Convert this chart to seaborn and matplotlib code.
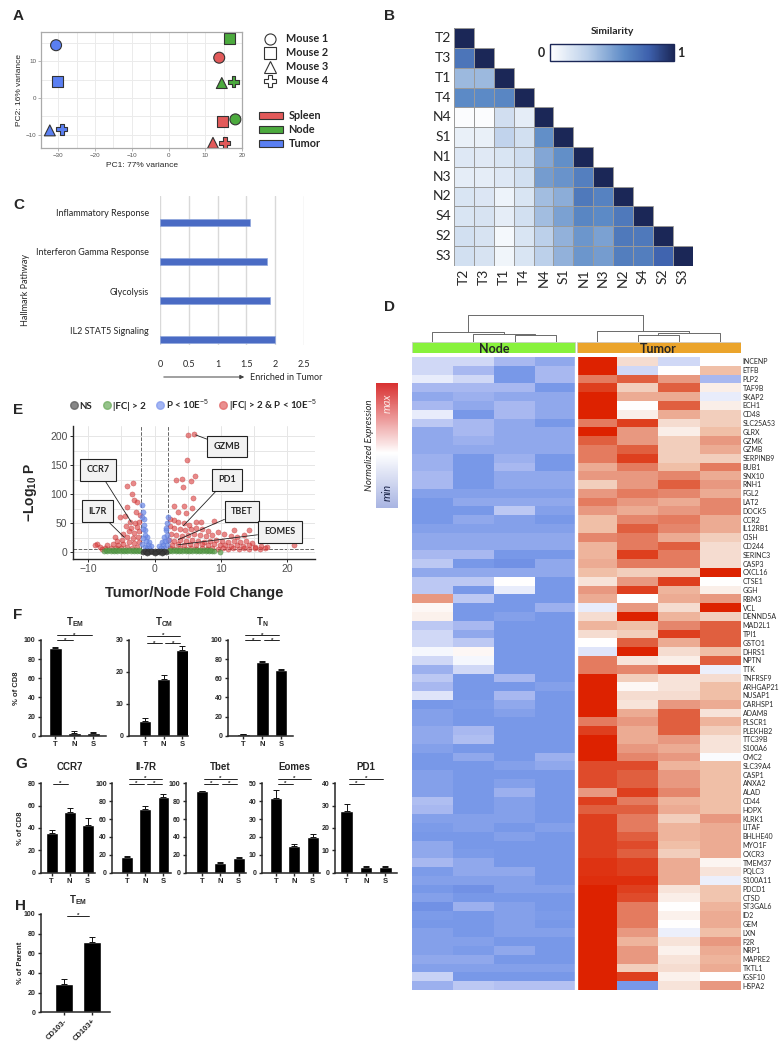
import numpy as np
import pandas as pd
import matplotlib
matplotlib.use('Agg')
import matplotlib.pyplot as plt
import seaborn as sns
from matplotlib.colors import LinearSegmentedColormap
from matplotlib.lines import Line2D
from matplotlib.patches import Patch, Rectangle
from matplotlib.cm import ScalarMappable

# ---------------- data ----------------
# A: PCA
pca_tissue = ['Tumor'] * 4 + ['Node'] * 4 + ['Spleen'] * 4
pca_mouse = ['Mouse 1', 'Mouse 2', 'Mouse 3', 'Mouse 4'] * 3
pca_pc1 = [-30.6, -30.3, -32.3, -29.0, 18.2, 16.5, 14.5, 17.7, 13.8, 14.7, 12.1, 15.3]
pca_pc2 = [14.4, 4.4, -8.8, -8.5, -5.8, 16.2, 4.1, 4.4, 11.0, -6.5, -12.2, -12.2]
tissue_colors = {'Spleen': '#E25A5A', 'Node': '#4CAA3E', 'Tumor': '#5A7FF2'}
mouse_markers = {'Mouse 1': 'o', 'Mouse 2': 's', 'Mouse 3': '^', 'Mouse 4': 'P'}

# B: similarity (lower triangle, row by row)
sim_labels = ['T2', 'T3', 'T1', 'T4', 'N4', 'S1', 'N1', 'N3', 'N2', 'S4', 'S2', 'S3']
sim_rows = [
    [1],
    [0.70, 1],
    [0.40, 0.40, 1],
    [0.60, 0.60, 0.62, 1],
    [0.02, 0.02, 0.21, 0.12, 1],
    [0.10, 0.10, 0.28, 0.20, 0.58, 1],
    [0.15, 0.14, 0.17, 0.22, 0.48, 0.58, 1],
    [0.12, 0.12, 0.15, 0.20, 0.52, 0.56, 0.65, 1],
    [0.17, 0.16, 0.08, 0.17, 0.38, 0.45, 0.68, 0.64, 1],
    [0.17, 0.18, 0.12, 0.20, 0.38, 0.50, 0.62, 0.60, 0.68, 1],
    [0.20, 0.18, 0.05, 0.17, 0.30, 0.43, 0.55, 0.50, 0.68, 0.68, 1],
    [0.20, 0.18, 0.07, 0.17, 0.30, 0.43, 0.55, 0.52, 0.66, 0.66, 0.78, 1],
]

# C: hallmark pathways
pathways = ['Inflammatory Response', 'Interferon Gamma Response', 'Glycolysis', 'IL2 STAT5 Signaling']
enrichment = [1.57, 1.85, 1.91, 1.99]

# D: heatmap (0 = min/blue, 5 = white, 10 = max/red)
genes = ['INCENP', 'ETFB', 'PLP2', 'TAF9B', 'SKAP2', 'ECH1', 'CD48', 'SLC25A53', 'GLRX', 'GZMK',
         'GZMB', 'SERPINB9', 'BUB1', 'SNX10', 'RNH1', 'FGL2', 'LAT2', 'DOCK5', 'CCR2', 'IL12RB1',
         'CISH', 'CD244', 'SERINC3', 'CASP3', 'CXCL16', 'CTSE1', 'GGH', 'RBM3', 'VCL', 'DENND5A',
         'MAD2L1', 'TPI1', 'GSTO1', 'DHRS1', 'NPTN', 'TTK', 'TNFRSF9', 'ARHGAP21', 'NUSAP1', 'CARHSP1',
         'ADAM8', 'PLSCR1', 'PLEKHB2', 'TTC39B', 'S100A6', 'CMC2', 'SLC39A4', 'CASP1', 'ANXA2', 'ALAD',
         'CD44', 'HOPX', 'KLRK1', 'LITAF', 'BHLHE40', 'MYO1F', 'CXCR3', 'TMEM37', 'PQLC3', 'S100A11',
         'PDCD1', 'CTSD', 'ST3GAL6', 'ID2', 'GEM', 'LXN', 'F2R', 'NRP1', 'MAPRE2', 'TKTL1',
         'IGSF10', 'HSPA2']
node_expr = [
    [4, 4, 3, 2], [4, 3, 1, 3], [4.5, 4, 1, 3], [3, 3, 3, 1], [2, 2.5, 2, 2], [3, 2, 3, 2],
    [4.5, 1, 3, 2], [3.5, 3, 2, 1], [2, 3, 2, 2], [2, 2.5, 2, 2], [2, 2, 2, 2], [2.5, 1, 2.5, 1],
    [2.5, 1, 3, 1], [3, 1, 2, 2], [3, 1, 2, 2], [1.5, 1.5, 1.5, 1.5], [1, 2, 2, 2], [1, 1, 3.5, 1.5],
    [1, 2, 1.5, 1], [1.5, 1.5, 1.5, 1.5], [2, 2, 2, 2], [2, 2, 2, 2], [3, 3, 1, 1], [3.5, 1, 0.5, 2],
    [2, 2, 2, 2], [3.5, 3.5, 5, 1], [3.5, 1, 4.5, 1], [8, 3.5, 1, 1], [5.2, 1, 1, 2.5], [5.4, 1, 1.5, 1],
    [3.5, 3, 1, 1], [4, 2, 1, 1], [4, 3.5, 1, 1], [4.8, 5.2, 1, 1], [4, 4.8, 1, 1], [2.5, 4, 1, 1],
    [3.5, 1, 3, 1], [3, 1, 1, 1.5], [4.3, 1, 3, 1], [1, 1.2, 2, 1], [1.5, 1, 1.5, 1], [1.5, 1, 1, 1],
    [2, 3, 1, 1], [2, 3.2, 1, 1], [1.5, 1, 1, 1], [1, 2, 1, 2.5], [1, 1, 1.5, 2], [1.5, 1, 1, 1],
    [1.5, 1, 1.5, 1], [1.5, 1, 2.5, 1], [3.2, 1, 1.5, 1], [3, 1, 1.5, 1], [1.5, 1.5, 1.5, 1], [1.2, 1.5, 1, 1.5],
    [1, 1, 1.5, 1], [2, 1, 1, 1], [2, 1.2, 1, 1], [3, 2, 1, 1], [1.2, 2, 2, 1], [1.5, 1.5, 1.5, 1],
    [1, 0.5, 1.5, 1.5], [1.5, 1, 1, 1], [0.5, 2.5, 1.5, 1], [1.2, 1, 1.5, 1.2], [1, 1, 1.5, 1], [1.5, 1, 1.5, 1.5],
    [1.5, 1.5, 1, 1], [1.5, 1.2, 2, 1], [2, 2, 1, 1], [1.5, 1.5, 1.5, 1.5], [3.8, 1, 1, 1], [2.5, 3.5, 3.3, 3.3],
]
tumor_expr = [
    [10, 6, 4, 5], [10, 4, 5, 7], [8.5, 9, 8, 3], [9.5, 6.5, 9, 5.5], [10, 7.5, 7.5, 4.5], [10, 5, 9, 5.5],
    [10, 5.5, 7.5, 6.5], [8.5, 9.5, 6, 6.5], [10, 8, 5.5, 7], [9, 8, 6.5, 8], [8.5, 9, 6.5, 7.5], [8.5, 9.5, 6.5, 6.5],
    [7.5, 8.5, 7, 8.5], [8, 8, 8.3, 7.5], [6.5, 8, 9, 8], [8, 8.5, 8.3, 7.5], [8.5, 8, 7.5, 8.3], [8, 7.5, 8, 8.3],
    [7, 8.3, 8.5, 7.5], [7, 9, 8.3, 7.5], [8.3, 8.5, 7.5, 6.5], [7.3, 8.5, 9, 6], [7.3, 9.5, 8.5, 6], [7.5, 8.5, 8.5, 6],
    [7, 6.5, 6.5, 10], [5.8, 8, 9.5, 5], [8, 9.5, 7.3, 5.5], [7.5, 5, 7.5, 8], [4.5, 8, 6, 10], [6, 10, 7.3, 6.5],
    [7.3, 7, 8.3, 9], [6, 6.5, 9.5, 9], [5, 9, 7.5, 9], [4.3, 10, 6, 7], [8.5, 5.8, 5.5, 9], [8.5, 8.3, 9.3, 4.6],
    [10, 6.5, 5.8, 6], [10, 5.2, 5.8, 7], [10, 6, 6, 7], [10, 5.8, 8, 7.5], [10, 7.5, 9, 5.8], [8.5, 8, 9, 7.3],
    [9.5, 7.5, 9, 6.5], [10, 7.5, 8, 5.8], [10, 8, 7.5, 5.8], [10, 8.3, 8, 4.9], [9.3, 9.3, 7.3, 7], [9.3, 9, 8, 7],
    [9.3, 9, 8, 7], [8, 9.5, 8.3, 7], [9.5, 8.5, 7.3, 7], [9, 9, 7.5, 7], [9.5, 8.5, 6.5, 8], [9.5, 8.5, 7.3, 7.5],
    [9.5, 9, 7.3, 7.5], [9.5, 9.3, 7, 7.5], [9.5, 9, 6.5, 7.5], [9.7, 9.5, 7.5, 5.3], [9.7, 9.5, 7.5, 5.8], [9.8, 9.8, 7.5, 4.6],
    [10, 9.5, 5.8, 6.8], [10, 9.3, 5.5, 6.8], [10, 8.5, 5, 7.3], [10, 8.5, 5.4, 7.5], [10, 8.5, 5, 7.5], [10, 8, 4.6, 7],
    [10, 7.3, 5.8, 8], [10, 8, 5.4, 7.5], [10, 8, 5.8, 7.3], [10, 6.5, 6, 7.5], [10, 9.5, 5.4, 5], [10, 1, 5.8, 8],
]
# dendrogram merges over the 8 columns: (left id, right id, height) -> new id 8, 9, ...
dendro_merges = [(2, 3, 0.22), (1, 8, 0.25), (0, 9, 0.31), (5, 6, 0.22), (11, 7, 0.27), (4, 12, 0.33), (10, 13, 0.84)]

# E: volcano (fold change, -log10 P)
red_x = [5.1, 6.0, 4.95, 6.1, 5.5, 4.2, 3.2, 4.25, 5.8, 2.9, 4.5, 5.7, 3.5, 4.8, 6.2, 7.0, 9.0, 9.5, 12.0, 14.3, 21.1,
         2.4, 3.0, 3.6, 4.4, 5.2, 2.3, 3.0, 3.8, 4.6, 5.5, 6.3, 7.2, 8.0, 2.5, 3.3, 4.1, 5.0, 5.9, 6.8, 7.7, 8.6,
         10.5, 11.5, 12.5, 13.5, 2.2, 3.0, 3.9, 4.8, 5.7, 6.6, 7.5, 8.4, 9.3, 10.2, 11.1, 12.0, 12.9, 13.8, 14.7,
         2.6, 3.5, 4.4, 5.3, 6.2, 7.1, 8.0, 8.9, 9.8, 10.7, 11.6, 12.5, 13.4, 14.3, 15.2, 16.1, 17.0,
         2.3, 3.1, 3.9, 4.7, 5.5, 6.3, 7.1, 7.9, 8.7, 9.5, 10.3, 11.1, 11.9, 12.7, 13.5, 14.3, 15.1, 15.9, 16.7,
         -3.3, -4.1, -3.4, -3.1, -2.6, -4.2, -2.8, -2.2, -4.5, -5.2, -5.9, -8.7, -9.0,
         -3.7, -3.0, -2.4, -2.7, -3.5, -4.3, -2.3, -3.1, -3.9, -4.7, -2.5, -3.3, -4.1, -4.9, -5.6,
         -2.3, -3.1, -3.9, -4.7, -5.5, -6.3, -7.1, -2.6, -3.4, -4.2, -5.0, -5.8, -6.6, -7.4, -8.2, -8.0]
red_y = [202, 203, 159, 132, 123, 127, 125, 112, 93, 80, 80, 76, 70, 68, 52, 53, 54, 35, 38, 38, 12,
         58, 55, 52, 50, 47, 45, 42, 40, 38, 40, 42, 40, 37, 32, 30, 28, 30, 32, 30, 28, 30,
         32, 28, 26, 30, 22, 20, 22, 20, 22, 20, 18, 20, 22, 20, 18, 20, 18, 20, 16,
         13, 14, 12, 14, 12, 14, 12, 14, 12, 13, 11, 13, 11, 12, 10, 11, 10,
         7, 6, 8, 6, 8, 6, 8, 6, 8, 6, 8, 6, 8, 6, 8, 6, 7, 6, 7,
         120, 114, 101, 90, 87, 78, 70, 65, 62, 61, 27, 15, 13,
         53, 50, 52, 44, 42, 45, 36, 34, 36, 32, 27, 25, 27, 22, 20,
         18, 16, 18, 14, 13, 15, 12, 10, 8, 10, 7, 8, 7, 8, 10, 6]
blue_x = [-1.9, -1.8, -1.6, -1.6, -1.4, -1.1, -0.9, -0.6, -1.9, -1.7, -1.5, -1.3, -1.0, -1.8, -1.9, -1.5, -1.2, -0.8,
          2.1, 1.9, 1.7, 1.4, 1.1, 0.65, 1.9, 1.6, 1.3, 1.9, 1.5, 1.0, 1.8, 2.0]
blue_y = [82, 70, 58, 47, 38, 27, 18, 11, 60, 40, 30, 20, 12, 25, 15, 10, 8, 7,
          60, 50, 38, 27, 18, 11, 30, 20, 12, 12, 8, 7, 42, 22]
green_x = [-7.6, -7.1, -6.6, -6.1, -5.6, -5.1, -4.6, -4.1, -3.6, -3.1, -2.6, -2.2,
           -7.3, -6.8, -6.3, -5.8, -5.3, -4.8, -4.3, -3.8, -3.3, -2.8, -2.4,
           2.2, 2.7, 3.2, 3.7, 4.2, 4.7, 5.2, 5.7, 6.2, 6.7, 7.2, 7.7, 8.2, 8.7, 9.0,
           2.4, 2.9, 3.4, 3.9, 4.4, 4.9, 5.4, 5.9, 6.4, 6.9, 7.4, 7.9, 8.4, 9.8]
green_y = [1.5] * 12 + [3.5] * 11 + [1.5] * 15 + [3.5] * 13 + [1.0]
grey_x = [-1.8, -1.3, -0.8, -0.3, 0.2, 0.7, 1.2, 1.7, -1.5, -1.0, -0.5, 0.0, 0.5, 1.0, 1.5, -1.1, 0.1, 1.1]
grey_y = [1.2] * 8 + [3.0] * 7 + [-1.0] * 3
volc_labels = ['GZMB', 'CCR7', 'PD1', 'IL7R', 'TBET', 'EOMES']
volc_label_pts = [(6.0, 203), (-3.4, 50), (4.2, 44), (-4.4, 24), (3.4, 21), (3.3, 12.6)]
volc_label_boxes = [(10.9, 182), (-8.5, 142), (10.9, 125), (-8.6, 71), (13.2, 70), (18.9, 35)]

# F/G/H: flow bar charts (mean, SEM)
groups = ['T', 'N', 'S']
tem_mean, tem_sem = [91.6, 3.2, 3.3], [1.0, 1.2, 0.5]
tcm_mean, tcm_sem = [4.7, 17.9, 26.8], [0.9, 1.1, 1.4]
tn_mean, tn_sem = [1.8, 77.3, 68.7], [0.4, 1.2, 0.8]
ccr7_mean, ccr7_sem = [35.3, 54.4, 42.3], [3.0, 3.2, 6.5]
il7r_mean, il7r_sem = [17.3, 71.7, 85.2], [1.8, 3.3, 2.6]
tbet_mean, tbet_sem = [91.0, 10.5, 16.5], [0.6, 1.6, 0.6]
eomes_mean, eomes_sem = [42.0, 14.7, 19.8], [4.0, 1.3, 2.0]
pd1_mean, pd1_sem = [27.6, 2.6, 2.4], [3.3, 0.3, 0.5]
cd103_groups = ['CD103-', 'CD103+']
cd103_mean, cd103_sem = [28.5, 71.9], [5.0, 4.4]

# ---------------- style ----------------
sns.set_style('ticks')
plt.rcParams['font.family'] = ['Liberation Sans', 'DejaVu Sans']
plt.rcParams['mathtext.fontset'] = 'custom'
plt.rcParams['mathtext.rm'] = 'Liberation Sans'
plt.rcParams['mathtext.bf'] = 'Liberation Sans:bold'
plt.rcParams['mathtext.it'] = 'Liberation Sans:italic'
CAL = ['Lato', 'DejaVu Sans']

W, H = 781, 1050
fig = plt.figure(figsize=(W / 100, H / 100), dpi=100)


def box(x0, y0, x1, y1):
    return fig.add_axes([x0 / W, 1 - y1 / H, (x1 - x0) / W, (y1 - y0) / H])


def ftext(x, y, s, **kw):
    fig.text(x / W, 1 - y / H, s, **kw)


for lx, ly, s in [(13, 16, 'A'), (384, 16, 'B'), (13, 205, 'C'), (384, 307, 'D'),
                  (13, 410, 'E'), (13, 615, 'F'), (15, 764, 'G'), (15, 906, 'H')]:
    ftext(lx, ly, s, fontsize=11, fontweight='bold', va='center')

# ---------------- A ----------------
axA = box(41, 32, 242, 148)
pca = pd.DataFrame({'PC1': pca_pc1, 'PC2': pca_pc2, 'tissue': pca_tissue, 'mouse': pca_mouse})
sns.scatterplot(data=pca, x='PC1', y='PC2', hue='tissue', style='mouse', palette=tissue_colors,
                markers=mouse_markers, s=62, edgecolor='#333333', linewidth=0.8, legend=False, ax=axA)
axA.set_xlim(-34.7, 20)
axA.set_ylim(-13.6, 18)
axA.set_xticks([-30, -20, -10, 0, 10, 20])
axA.set_xticks([-25, -15, -5, 5, 15], minor=True)
axA.set_yticks([-10, 0, 10])
axA.set_yticks([-5, 5, 15], minor=True)
axA.grid(which='both', color='#EBEBEB', lw=0.7)
axA.set_axisbelow(True)
axA.tick_params(which='major', labelsize=4.5, labelcolor='#555555', length=2, color='#AAAAAA', width=0.6, pad=1.5)
axA.tick_params(which='minor', length=0)
for sp in axA.spines.values():
    sp.set_color('#AAAAAA')
    sp.set_linewidth(0.9)
axA.set_xlabel('PC1: 77% variance', fontsize=6, labelpad=3)
axA.set_ylabel('PC2: 16% variance', fontsize=6, labelpad=2)

mouse_handles = [Line2D([0], [0], marker=mouse_markers[m], ls='none', mfc='white', mec='#333333', ms=8, mew=0.8)
                 for m in mouse_markers]
fig.legend(mouse_handles, list(mouse_markers), loc='upper left', bbox_to_anchor=(255 / W, 1 - 29 / H),
           frameon=False, prop={'family': CAL, 'weight': 'bold', 'size': 7.8}, labelspacing=0.28,
           handletextpad=0.5, borderaxespad=0)
tissue_handles = [Patch(facecolor=tissue_colors[t], edgecolor='#333333', lw=0.8) for t in ['Spleen', 'Node', 'Tumor']]
fig.legend(tissue_handles, ['Spleen', 'Node', 'Tumor'], loc='upper left', bbox_to_anchor=(255 / W, 1 - 106 / H),
           frameon=False, prop={'family': CAL, 'weight': 'bold', 'size': 7.8}, labelspacing=0.28,
           handlelength=2.2, handleheight=0.55, handletextpad=0.5, borderaxespad=0)

# ---------------- B ----------------
sim = np.full((12, 12), np.nan)
for i, row in enumerate(sim_rows):
    sim[i, :len(row)] = row
sim_cmap = LinearSegmentedColormap.from_list(
    'sim', [(0, '#FFFFFF'), (0.3, '#BCD0EA'), (0.6, '#5C8AC6'), (0.8, '#3D60AC'), (1, '#1B2757')])
axB = box(454, 28.3, 692.7, 265.7)
sns.heatmap(sim, mask=np.isnan(sim), cmap=sim_cmap, vmin=0, vmax=1, linewidths=0, cbar=False,
            xticklabels=sim_labels, yticklabels=sim_labels, ax=axB)
for i, row in enumerate(sim_rows):
    for j in range(len(row)):
        axB.add_patch(Rectangle((j, i), 1, 1, fill=False, ec='#9A9A9A', lw=0.7))
axB.tick_params(length=0, pad=2)
axB.set_xticklabels(sim_labels, rotation=90, fontsize=10, family=CAL)
axB.set_yticklabels(sim_labels, rotation=0, fontsize=10, family=CAL)
caxB = box(550, 44, 674, 61)
cbB = fig.colorbar(ScalarMappable(cmap=sim_cmap), cax=caxB, orientation='horizontal')
cbB.set_ticks([])
cbB.outline.set_edgecolor('#1B2757')
cbB.outline.set_linewidth(1.0)
ftext(612, 31, 'Similarity', fontsize=7.5, fontweight='bold', family=CAL, ha='center', va='center')
ftext(541, 53, '0', fontsize=9, fontweight='bold', family=CAL, ha='center', va='center')
ftext(681, 53, '1', fontsize=9, fontweight='bold', family=CAL, ha='center', va='center')

# ---------------- C ----------------
axC = box(160, 196, 304, 345)
sns.barplot(x=enrichment, y=pathways, orient='h', color='#4A6BC4', width=0.18, saturation=1,
            edgecolor='#8FA6DC', linewidth=0.5, ax=axC)
axC.set_xlim(0, 2.5)
axC.set_ylim(3.14, -0.67)
axC.set_yticks([i - 0.24 for i in range(len(pathways))])
axC.set_yticklabels(pathways, fontsize=6.5, family=CAL)
axC.set_xticks([0, 0.5, 1, 1.5, 2, 2.5])
axC.set_xticklabels(['0', '0.5', '1', '1.5', '2', '2.5'], fontsize=6.5, family=CAL)
axC.tick_params(length=0, pad=8)
axC.tick_params(axis='x', pad=11)
axC.xaxis.grid(True, color='#D9D9D9', lw=1)
axC.set_axisbelow(True)
for sp in axC.spines.values():
    sp.set_visible(False)
axC.set_xlabel('')
axC.set_ylabel('')
fig.add_artist(matplotlib.patches.FancyArrowPatch((161 / W, 1 - 377 / H), (247 / W, 1 - 377 / H),
                                                  transform=fig.transFigure, arrowstyle='-|>',
                                                  mutation_scale=6, color='#404040', lw=0.7))
ftext(250, 377, 'Enriched in Tumor', fontsize=6.5, family=CAL, va='center')
ftext(25, 290, 'Hallmark Pathway', fontsize=6.5, family=CAL, rotation=90, ha='center', va='center')

# ---------------- D ----------------
expr_colors = ['#6A8AE2', '#7898E8', '#90A8EC', '#A8B8F0', '#D0D8F6', '#FFFFFF',
               '#F5DCD0', '#F0C0A8', '#E89880', '#E06040', '#DD2200']
expr_cmap = LinearSegmentedColormap.from_list('expr', expr_colors)
expr = np.hstack([np.array(node_expr), np.array(tumor_expr)])
axD = box(411.7, 357, 740.7, 990)
sns.heatmap(expr, cmap=expr_cmap, vmin=0, vmax=10, cbar=False, xticklabels=False, yticklabels=genes, ax=axD)
axD.yaxis.tick_right()
axD.set_yticklabels(genes, rotation=0, fontsize=5, family=CAL)
axD.tick_params(length=0, pad=1.5)
axD.axvline(4, color='white', lw=2.4)

axHead = box(411.7, 341.7, 740.7, 353.3)
axHead.set_xlim(0, 8)
axHead.set_ylim(0, 1)
axHead.axis('off')
axHead.add_patch(Rectangle((0, 0), 3.97, 1, fc='#88F23C', ec='#C8C8C8', lw=0.5))
axHead.add_patch(Rectangle((4.03, 0), 3.97, 1, fc='#EBA42B', ec='#C8C8C8', lw=0.5))
axHead.text(2, 0.4, 'Node', fontsize=9, fontweight='bold', family=CAL, ha='center', va='center')
axHead.text(6, 0.4, 'Tumor', fontsize=9, fontweight='bold', family=CAL, ha='center', va='center')

axDen = box(411.7, 310, 740.7, 341.7)
axDen.set_xlim(0, 8)
axDen.set_ylim(0, 1)
axDen.axis('off')
node_pos = {i: (i + 0.5, 0.0) for i in range(8)}
for k, (a, b, h) in enumerate(dendro_merges):
    xa, ha_ = node_pos[a]
    xb, hb = node_pos[b]
    axDen.plot([xa, xa, xb, xb], [ha_, h, h, hb], color='#6A6A6A', lw=0.7)
    node_pos[8 + k] = ((xa + xb) / 2, h)

caxD = box(376, 383, 398, 508)
leg_cmap = LinearSegmentedColormap.from_list('leg', [(0, '#A8B4E2'), (0.44, '#FFFFFF'), (1, '#D83030')])
cbD = fig.colorbar(ScalarMappable(cmap=leg_cmap), cax=caxD)
cbD.set_ticks([])
cbD.outline.set_visible(False)
ftext(387, 403, 'max', fontsize=8, style='italic', family=CAL, color='#FBE6E2', rotation=90, ha='center', va='center')
ftext(387, 492, 'min', fontsize=8, style='italic', family=CAL, color='#1A2448', rotation=90, ha='center', va='center')
ftext(369, 445, 'Normalized Expression', fontsize=7, style='italic', family=CAL, rotation=90, ha='center', va='center')

# ---------------- E ----------------
axE = box(73, 425.7, 315, 558.7)
sns.scatterplot(x=red_x, y=red_y, color='#D93B3B', alpha=0.6, s=14, edgecolor='#B02020', linewidth=0.3, ax=axE)
sns.scatterplot(x=blue_x, y=blue_y, color='#6F8CE8', alpha=0.75, s=14, edgecolor='#5070D0', linewidth=0.3, ax=axE)
sns.scatterplot(x=green_x, y=green_y, color='#5A9E4B', alpha=0.7, s=14, edgecolor='#3F7F35', linewidth=0.3, ax=axE)
sns.scatterplot(x=grey_x, y=grey_y, color='#3A3A3A', alpha=0.85, s=14, edgecolor='#222222', linewidth=0.3, ax=axE)
for xv in (-2, 2):
    axE.axvline(xv, color='#666666', ls='--', lw=0.7, zorder=0.5)
axE.axhline(5, color='#666666', ls='--', lw=0.7, zorder=0.5)
axE.set_xlim(-12.3, 24.2)
axE.set_ylim(-11, 218)
axE.set_xticks([-10, 0, 10, 20])
axE.set_xticks([-5, 5, 15], minor=True)
axE.set_yticks([0, 50, 100, 150, 200])
axE.set_yticks([25, 75, 125, 175], minor=True)
axE.grid(which='both', color='#E6E6E6', lw=0.7)
axE.set_axisbelow(True)
axE.tick_params(which='major', labelsize=7.5, labelcolor='#4D4D4D', length=2.5, width=0.7, pad=1.5)
axE.tick_params(which='minor', length=0)
axE.spines['top'].set_visible(False)
axE.spines['right'].set_visible(False)
for sp in ('left', 'bottom'):
    axE.spines[sp].set_linewidth(1.0)
for lab, pt, bx in zip(volc_labels, volc_label_pts, volc_label_boxes):
    axE.annotate(lab, xy=pt, xytext=bx, fontsize=6.5, fontweight='bold', family=CAL, ha='center', va='center',
                 bbox=dict(boxstyle='square,pad=0.7', fc='#F2F2F2', ec='#222222', lw=0.8),
                 arrowprops=dict(arrowstyle='-', lw=0.6, color='#222222', shrinkA=0, shrinkB=1))
ftext(194, 593, 'Tumor/Node Fold Change', fontsize=10.5, fontweight='bold', ha='center', va='center')
ftext(31, 492, r'$\mathbf{-Log_{10}\ P}$', fontsize=10, rotation=90, ha='center', va='center')
legE = [Line2D([0], [0], marker='o', ls='none', ms=5.5, mfc=c, mec=c, alpha=0.7)
        for c in ['#555555', '#6AAA5A', '#7D96EE', '#E06060']]
fig.legend(legE, ['NS', '|FC| > 2', r'P < 10E$^{-5}$', r'|FC| > 2 & P < 10E$^{-5}$'], ncol=4,
           loc='center', bbox_to_anchor=(193 / W, 1 - 405 / H), frameon=False,
           prop={'family': CAL, 'weight': 'bold', 'size': 7}, columnspacing=1.0, handletextpad=0.1,
           handlelength=1.0, borderaxespad=0)


# ---------------- F / G / H ----------------
def bar_panel(rect, cats, means, sems, ymax, ystep, title, title_y, sigs, xlim, bw=0.66, rot=0):
    ax = box(*rect)
    n = len(means)
    sns.barplot(x=cats, y=means, color='black', width=bw, saturation=1, ax=ax)
    ax.errorbar(np.arange(n), means, yerr=[np.zeros(n), sems], fmt='none', ecolor='#111111',
                elinewidth=0.7, capsize=2.3, capthick=0.7)
    ax.set_ylim(0, ymax)
    ax.set_xlim(*xlim)
    ax.set_yticks(np.arange(0, ymax + 0.01, ystep))
    ax.set_yticklabels([f'{v:g}' for v in np.arange(0, ymax + 0.01, ystep)], fontsize=5, fontweight='bold')
    ax.set_xticklabels(cats, fontsize=5.5, fontweight='bold', rotation=rot,
                       ha='right' if rot else 'center', rotation_mode='anchor' if rot else 'default')
    ax.tick_params(length=2.5, width=1.0, pad=1.5)
    for sp in ('top', 'right'):
        ax.spines[sp].set_visible(False)
    for sp in ('left', 'bottom'):
        ax.spines[sp].set_linewidth(1.1)
    ax.set_xlabel('')
    ax.set_ylabel('')
    height_px = rect[3] - rect[1]
    ax.text((n - 1) / 2, 1 + (rect[1] - title_y) / height_px, title, transform=ax.get_xaxis_transform(),
            fontsize=7, fontweight='bold', ha='center', va='center')
    for i, j, lev in sigs:
        ax.plot([i + 0.1, j - 0.1], [lev, lev], color='black', lw=0.6, clip_on=False)
        ax.text((i + j) / 2, lev, '*', fontsize=4.5, fontweight='bold', ha='center', va='center')
    return ax


bar_panel((41, 640, 106, 735.7), groups, tem_mean, tem_sem, 100, 20, r'$\mathbf{T_{EM}}$', 622,
          [(0, 1, 99.5), (0, 2, 105)], (-0.76, 2.66))
bar_panel((129.3, 640, 188, 735.7), groups, tcm_mean, tcm_sem, 30, 10, r'$\mathbf{T_{CM}}$', 622,
          [(0, 1, 29), (1, 2, 29), (0, 2, 31.4)], (-0.83, 2.3))
bar_panel((227.7, 640, 293, 735.7), groups, tn_mean, tn_sem, 100, 20, r'$\mathbf{T_{N}}$', 622,
          [(0, 1, 99.5), (1, 2, 99.5), (0, 2, 105)], (-0.82, 2.62))
ftext(17, 688, '% of CD8', fontsize=5.5, fontweight='bold', rotation=90, ha='center', va='center')

bar_panel((40.7, 783.3, 95, 872.7), groups, ccr7_mean, ccr7_sem, 80, 20, 'CCR7', 767,
          [(0, 1, 79.5)], (-0.6, 2.4))
bar_panel((112.3, 783.3, 170.7, 872.7), groups, il7r_mean, il7r_sem, 100, 20, 'Il-7R', 767,
          [(0, 1, 99.7), (1, 2, 99.7), (0, 2, 105.3)], (-0.83, 2.4))
bar_panel((186, 783.3, 246, 872.7), groups, tbet_mean, tbet_sem, 100, 20, 'Tbet', 767,
          [(0, 1, 99.7), (1, 2, 99.7), (0, 2, 105.3)], (-0.87, 2.4))
bar_panel((262.3, 783.3, 320, 872.7), groups, eomes_mean, eomes_sem, 50, 10, 'Eomes', 767,
          [(0, 1, 49.8), (0, 2, 52.6)], (-0.75, 2.4))
bar_panel((335, 783.3, 397, 872.7), groups, pd1_mean, pd1_sem, 40, 10, 'PD1', 767,
          [(0, 1, 39.9), (0, 2, 42.1)], (-0.6, 2.6))
ftext(20, 828, '% of CD8', fontsize=5.5, fontweight='bold', rotation=90, ha='center', va='center')

bar_panel((40.7, 914, 110, 1012.3), cd103_groups, cd103_mean, cd103_sem, 100, 20, r'$\mathbf{T_{EM}}$', 900,
          [(0, 1, 98.3)], (-0.84, 1.64), rot=45)
ftext(20, 963, '% of Parent', fontsize=5.5, fontweight='bold', rotation=90, ha='center', va='center')

fig.savefig('out.png', dpi=100)
